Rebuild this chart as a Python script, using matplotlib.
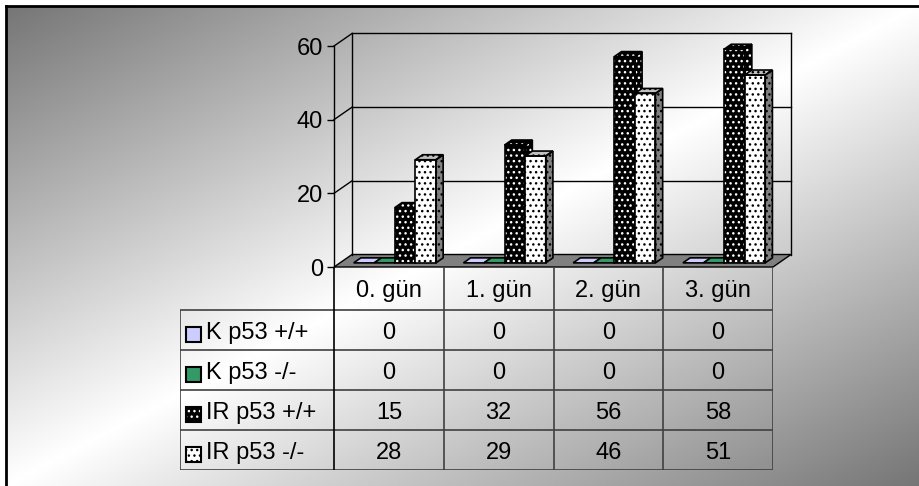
import numpy as np
import matplotlib
matplotlib.use('Agg')
import matplotlib.pyplot as plt
from matplotlib.patches import Polygon, Rectangle

days = ['0. gün', '1. gün', '2. gün', '3. gün']
series = ['K p53 +/+', 'K p53 -/-', 'IR p53 +/+', 'IR p53 -/-']
k_wt = [0, 0, 0, 0]
k_ko = [0, 0, 0, 0]
ir_wt = [15, 32, 56, 58]
ir_ko = [28, 29, 46, 51]
values = [k_wt, k_ko, ir_wt, ir_ko]
yticks = [0, 20, 40, 60]

# front, side, top colour and dot colour (None = plain fill)
styles = [
    ('#ccccff', '#9999cc', '#ccccff', None),
    ('#339966', '#226644', '#339966', None),
    ('black', 'black', 'black', 'white'),
    ('white', '#808080', '#c0c0c0', 'black'),
]

plt.rcParams['font.family'] = ['Liberation Sans', 'DejaVu Sans']
plt.rcParams['font.size'] = 17
plt.rcParams['hatch.linewidth'] = 1.0

W, H = 920, 486
fig = plt.figure(figsize=(W / 100, H / 100), dpi=100)

# gradient background with the frame
bg = fig.add_axes([6 / W, 0, 1 - 6 / W, 1 - 6 / H], zorder=-5)
u = np.linspace(0, 1, 400)[None, :]
v = np.linspace(0, 1, 300)[:, None]
t = (u + v) / 2
shade = 1 - 0.54 * np.abs(2 * t - 1)
bg.imshow(shade, cmap='gray', vmin=0, vmax=1, extent=[0, 1, 0, 1],
          origin='upper', aspect='auto')
bg.set_xticks([])
bg.set_yticks([])
for s in ['right', 'bottom']:
    bg.spines[s].set_visible(False)
for s in ['top', 'left']:
    bg.spines[s].set_linewidth(2)

# chart: front face of the box
ax = fig.add_axes([334 / W, 1 - 267 / H, 439 / W, 221 / H])
ax.set_xlim(0, 4)
ax.set_ylim(0, 60)
ax.patch.set_visible(False)
for s in ['top', 'right', 'bottom']:
    ax.spines[s].set_visible(False)
ax.spines['left'].set_linewidth(1)
ax.set_xticks([])
ax.set_yticks(yticks)
ax.tick_params(axis='y', length=5, width=1, pad=3, labelsize=17)

# depth of the box in data units (oblique projection)
DX = 18 / 109.75
DY = 12.5 / (221 / 60)


def proj(pts):
    return [(x + d * DX, y + d * DY) for x, y, d in pts]


def face(pts, color, dots, z, lw=1.2):
    xy = proj(pts)
    if dots:
        ax.add_patch(Polygon(xy, closed=True, facecolor=color, edgecolor=dots,
                             hatch='...', lw=0, clip_on=False, zorder=z))
    else:
        ax.add_patch(Polygon(xy, closed=True, facecolor=color, lw=0,
                             clip_on=False, zorder=z))
    ax.add_patch(Polygon(xy, closed=True, fill=False, edgecolor='black',
                         lw=lw, clip_on=False, zorder=z + 0.01))


def line(pts, z=1):
    xy = np.array(proj(pts))
    ax.plot(xy[:, 0], xy[:, 1], color='black', lw=1, clip_on=False, zorder=z)


# floor
face([(0, 0, 0), (4, 0, 0), (4, 0, 1), (0, 0, 1)], '#808080', None, 1, lw=1)

# back wall, grid lines and side wall edges
for tk in yticks[1:]:
    line([(0, tk, 1), (4, tk, 1)])
    line([(0, tk, 0), (0, tk, 1)])
line([(0, 0, 1), (0, yticks[-1], 1)])
line([(4, 0, 1), (4, yticks[-1], 1)])

# bars
GAP, BW = 0.125, 0.1875
D0, D1 = 0.33, 0.73
z = 3
for i in range(len(days)):
    for j, vals in enumerate(values):
        val = vals[i]
        fc, sc, tc, dots = styles[j]
        x0 = i + GAP + j * BW
        x1 = x0 + BW
        if val > 0:
            face([(x0, 0, D0), (x1, 0, D0), (x1, val, D0), (x0, val, D0)], fc, dots, z)
            face([(x1, 0, D0), (x1, 0, D1), (x1, val, D1), (x1, val, D0)], sc, dots, z)
        face([(x0, val, D0), (x1, val, D0), (x1, val, D1), (x0, val, D1)], tc, dots, z)
        z += 1

# data table under the chart
LABW = (334 - 180) / 109.75
HDR = 43 / 40
BASE = 8.5 / 40  # baseline below the row middle
tab = fig.add_axes([180 / W, 1 - 470 / H, (773 - 180) / W, 203 / H])
tab.set_xlim(-LABW, 4)
tab.set_ylim(4, -HDR)
tab.axis('off')

lc = '#404040'
tab.hlines(range(len(series) + 1), -LABW, 4, color=lc, lw=1.2)
tab.vlines(range(1, len(days) + 1), -HDR, len(series), color=lc, lw=1.2)
tab.vlines(0, -HDR, len(series), color='black', lw=1.2)
tab.vlines(-LABW, 0, len(series), color=lc, lw=1.2)

for i, d in enumerate(days):
    tab.text(i + 0.5, -HDR / 2 + BASE, d, ha='center', va='baseline')

kw, kh = 15 / 109.75, 15 / 40
for r, (name, vals) in enumerate(zip(series, values)):
    for i, val in enumerate(vals):
        tab.text(i + 0.5, r + 0.5 + BASE, str(val), ha='center', va='baseline')
    fc, sc, tc, dots = styles[r]
    kx = -LABW + 6 / 109.75
    ky = r + 0.5 - kh / 2 + 4 / 40
    if dots:
        tab.add_patch(Rectangle((kx, ky), kw, kh, facecolor=fc, edgecolor=dots,
                                hatch='...', lw=0))
    else:
        tab.add_patch(Rectangle((kx, ky), kw, kh, facecolor=fc, lw=0))
    tab.add_patch(Rectangle((kx, ky), kw, kh, fill=False, edgecolor='black', lw=1.5))
    tab.text(kx + kw + 5 / 109.75, r + 0.5 + BASE, name, ha='left', va='baseline')

fig.savefig('out.png', dpi=100)
